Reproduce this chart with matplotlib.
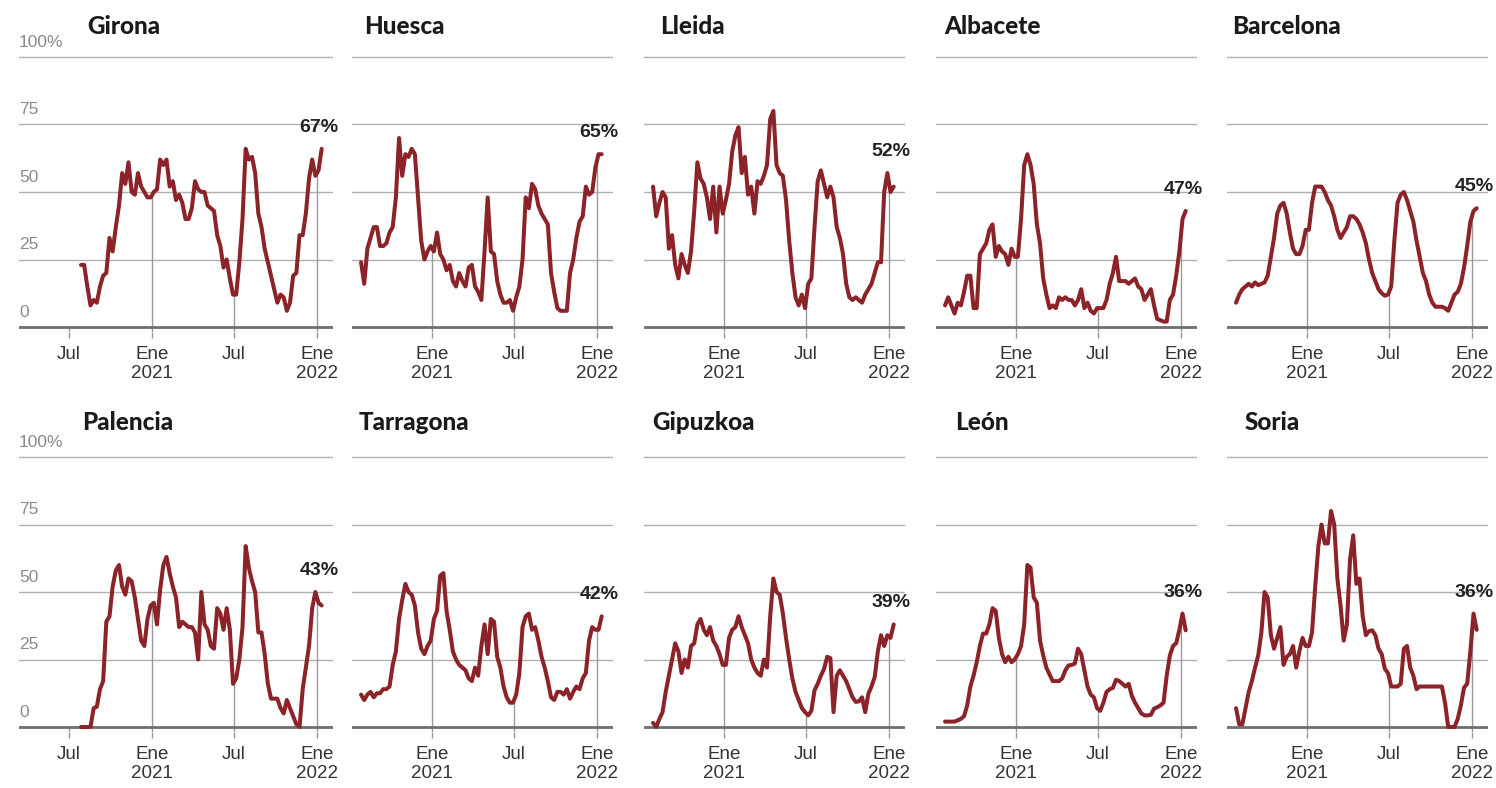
import numpy as np
import pandas as pd
import matplotlib
matplotlib.use("Agg")
import matplotlib.pyplot as plt
import matplotlib.dates as mdates

plt.rcParams['font.family'] = ['Liberation Sans', 'DejaVu Sans']

W, H = 1496, 788

# ── Data: weekly share (%) from late July 2020 to mid January 2022 ───────────
DATES = pd.date_range("2020-07-28", periods=77, freq="7D")

PROVINCES = ["Girona", "Huesca", "Lleida", "Albacete", "Barcelona",
             "Palencia", "Tarragona", "Gipuzkoa", "León", "Soria"]
LAST_LABELS = ["67%", "65%", "52%", "47%", "45%",
               "43%", "42%", "39%", "36%", "36%"]

girona = [23, 23, 15, 8, 10, 9, 15, 19, 20, 33, 28, 37, 45, 57, 53, 61, 50, 49, 57, 52,
          50, 48, 48, 50, 51, 62, 60, 62, 52, 54, 47, 49, 46, 40, 40, 44, 54, 51, 50, 50,
          45, 44, 43, 34, 30, 22, 25, 18, 12, 12, 24, 40, 66, 62, 63, 57, 42, 37, 29, 24,
          19, 14, 9, 12, 11, 6, 9, 19, 20, 34, 34, 42, 55, 62, 56, 58, 66]
huesca = [24, 16, 29, 33, 37, 37, 30, 30, 31, 35, 37, 48, 70, 56, 64, 63, 66, 64, 48, 32,
          25, 28, 30, 28, 35, 27, 25, 21, 23, 17, 15, 20, 17, 15, 22, 23, 15, 13, 10, 28,
          48, 28, 27, 17, 12, 9, 9, 10, 6, 11, 15, 25, 48, 44, 53, 51, 45, 42, 40, 38,
          20, 13, 7, 6, 6, 6, 20, 25, 33, 39, 41, 52, 49, 50, 59, 64, 64]
lleida = [52, 41, 46, 50, 48, 29, 34, 23, 18, 27, 23, 20, 28, 43, 61, 55, 53, 48, 40, 52,
          35, 52, 42, 47, 53, 65, 71, 74, 57, 63, 49, 52, 42, 54, 53, 56, 60, 77, 80, 60,
          57, 56, 47, 32, 20, 11, 8, 12, 7, 16, 18, 37, 54, 58, 53, 48, 52, 48, 37, 33,
          27, 16, 11, 10, 11, 10, 9, 12, 14, 16, 20, 24, 24, 50, 57, 50, 52]
albacete = [8, 11, 8, 5, 9, 8, 13, 19, 19, 7, 7, 27, 29, 31, 36, 38, 26, 30, 28, 27,
            23, 29, 26, 26, 40, 60, 64, 60, 53, 38, 31, 18, 12, 7, 8, 7, 11, 10, 11, 10,
            10, 8, 10, 14, 7, 9, 6, 5, 7, 7, 7, 10, 16, 20, 26, 17, 17, 17, 16, 17,
            18, 15, 14, 10, 12, 14, 8, 3, 2.5, 2, 2, 10, 12, 19, 28, 40, 43]
barcelona = [9, 12, 14, 15, 16, 15, 16.5, 15.5, 16, 16.5, 19, 26, 33, 42, 45, 46, 42, 35, 29, 27,
             27, 30, 36, 36, 46, 52, 52, 52, 50, 47, 45, 41, 36, 33, 35, 37, 41, 41, 40, 38,
             35, 31, 25, 20, 17, 14, 12.5, 11.6, 12, 15, 32, 46, 49, 50, 47, 43, 39, 32, 26, 20,
             17, 12, 9, 7.5, 7.5, 7.5, 7, 6, 9, 12, 13, 16, 22, 30, 39, 43, 44]
palencia = [0, 0, 0, 0, 7, 7.5, 14, 17, 39, 41, 52, 58, 60, 52, 49, 55, 54, 48, 40, 32,
            30, 40, 45, 46, 38, 51, 60, 63, 57, 52, 48, 37, 39, 38, 37, 37, 35, 25, 50, 38,
            36, 30, 29, 44, 42, 36, 44, 36, 16, 18, 25, 37, 67, 59, 54, 50, 35, 35, 27, 16,
            10.5, 10.5, 10.5, 7, 5, 10, 7, 4, 1, 0, 14, 22, 30, 44, 50, 46, 45]
tarragona = [12, 10, 12, 13, 11, 12.5, 12.5, 14, 14, 15, 23, 28, 40, 47, 53, 50, 49, 45, 35, 29,
             27, 30, 32, 40, 43, 56, 57, 43, 36, 28, 25, 23, 22, 21, 18, 17, 22, 19, 30, 38,
             27, 40, 39, 26, 22, 15, 11, 9, 9, 12, 20, 37, 41, 42, 36, 37, 32, 26, 22, 17,
             11, 10, 13, 13, 12, 14, 10.5, 13, 15, 14, 18, 20, 32, 37, 36, 36, 41]
gipuzkoa = [1.5, 0, 3, 5.5, 13, 19, 25, 31, 28, 20, 25, 22, 30, 31, 38, 40, 36, 34, 37, 32,
            30, 27, 23, 23, 33, 36, 37, 41, 37, 34, 31, 25, 22, 20, 19, 25, 22, 41, 55, 50,
            49, 42, 33, 25, 18, 13, 10, 7, 5.5, 4.3, 6, 13.6, 16, 19, 21.5, 26, 25.5, 5.5, 19, 21,
            19, 17, 14, 11, 9.3, 9.5, 11, 5.5, 12.3, 15, 18.5, 28, 34, 30, 34, 33, 38]
leon = [2, 2, 2, 2, 2.5, 3, 4, 8, 15, 19, 24, 30, 34.6, 34.6, 38, 44, 43, 33, 27, 24,
        26, 24, 25, 27, 30, 38, 60, 59, 48, 46, 32, 26.5, 22, 19.5, 17, 17, 17, 18, 21, 22.8,
        23, 23.5, 29, 27, 21, 15, 12, 11, 7, 6, 9, 13, 14, 14.5, 17.5, 17, 16, 15, 16, 11.5,
        9, 7, 5, 4.3, 4.3, 4.5, 6.8, 7.3, 8, 9, 19, 26.5, 30, 31, 36, 42, 35.8]
soria = [7, 1, 1, 7, 13, 17, 22, 26.5, 35, 50, 48, 34, 29, 33, 37, 23, 26, 27, 30, 22,
         28, 33, 30, 30, 35, 52, 67, 75, 68, 68, 80, 75, 55, 45, 32, 38, 62, 71, 53, 55,
         41, 34, 35.5, 35.8, 34, 29, 27, 21.5, 20, 15, 15, 15, 16, 29, 30, 22, 19, 14, 15, 15,
         15, 15, 15, 15, 15, 15, 9, 0, 0, 0, 3, 8, 14.6, 16, 28, 42, 36]

SERIES = [girona, huesca, lleida, albacete, barcelona,
          palencia, tarragona, gipuzkoa, leon, soria]

TICK_DATES = pd.to_datetime(["2020-07-01", "2021-01-01", "2021-07-01", "2022-01-01"])
TICK_TEXT = ["Jul", "Ene\n2021", "Jul", "Ene\n2022"]
Y_GRID = [0, 25, 50, 75, 100]

# ── Layout (pixels) ───────────────────────────────────────────────────────────
COL_LEFT = [19, 352, 644, 936, 1227]
COL_WIDTH = [314, 261, 261, 261, 261]
ROW_ZERO = [327, 727]          # pixel row of the 0 line
PX_PER_UNIT = 2.7
TITLE_X = [[87, 364, 660, 944, 1232], [82, 359, 652, 955, 1245]]
TITLE_Y = [27, 423]

LINE_COLOR = "#8b2328"
YMIN, YMAX = -2, 102

fig = plt.figure(figsize=(W / 100, H / 100), dpi=100)

for i, (name, vals, lab) in enumerate(zip(PROVINCES, SERIES, LAST_LABELS)):
    row, col = divmod(i, 5)
    top_px = ROW_ZERO[row] - YMAX * PX_PER_UNIT
    h_px = (YMAX - YMIN) * PX_PER_UNIT
    ax = fig.add_axes([COL_LEFT[col] / W, 1 - (top_px + h_px) / H,
                       COL_WIDTH[col] / W, h_px / H])
    left = pd.Timestamp("2020-03-13") if col == 0 else pd.Timestamp("2020-07-08")
    ax.set_xlim(left, pd.Timestamp("2022-02-05"))
    ax.set_ylim(YMIN, YMAX)
    for s in ax.spines.values():
        s.set_visible(False)

    for g in Y_GRID[1:]:
        ax.axhline(g, color="#b0b0b0", lw=1, zorder=1)
    ax.axhline(0, color="#6e6e6e", lw=2, zorder=2)

    # ticks and vertical guides up to the value on that date
    ticks = [t for t in TICK_DATES if t >= left]
    ax.set_xticks(ticks)
    ax.set_xticklabels([TICK_TEXT[list(TICK_DATES).index(t)] for t in ticks])
    ax.tick_params(axis="x", length=4.5, width=1, color="#999999", pad=5,
                   labelsize=13.5, labelcolor="#333333")
    ax.set_yticks([])
    xnum = mdates.date2num(DATES)
    for t in ticks:
        tn = mdates.date2num(t)
        top = np.interp(tn, xnum, vals) if xnum[0] <= tn <= xnum[-1] else 0
        ax.vlines(t, YMIN, top, color="#9a9a9a", lw=1, zorder=1)

    ax.plot(DATES, vals, color=LINE_COLOR, lw=2.9, solid_joinstyle="round",
            solid_capstyle="round", zorder=3, clip_on=False)

    ax.annotate(lab, xy=(DATES[-1], max(vals[-4:])), xytext=(-2, 15.5),
                textcoords="offset points", ha="center", va="center",
                fontsize=14, fontweight="bold", color="#222222",
                annotation_clip=False)

    if col == 0:
        for g in Y_GRID:
            txt = f"{g}%" if g == 100 else str(g)
            ax.annotate(txt, xy=(0, g), xycoords=("axes fraction", "data"),
                        xytext=(0, 10.5), textcoords="offset points",
                        ha="left", va="center", fontsize=12.5, color="#8a8a8a")

    fig.text(TITLE_X[row][col] / W, 1 - TITLE_Y[row] / H, name,
             ha="left", va="center", fontsize=17.5, fontweight="black",
             family=["Lato", "Liberation Sans", "DejaVu Sans"], color="#1a1a1a")

fig.savefig("out.png", dpi=100)
